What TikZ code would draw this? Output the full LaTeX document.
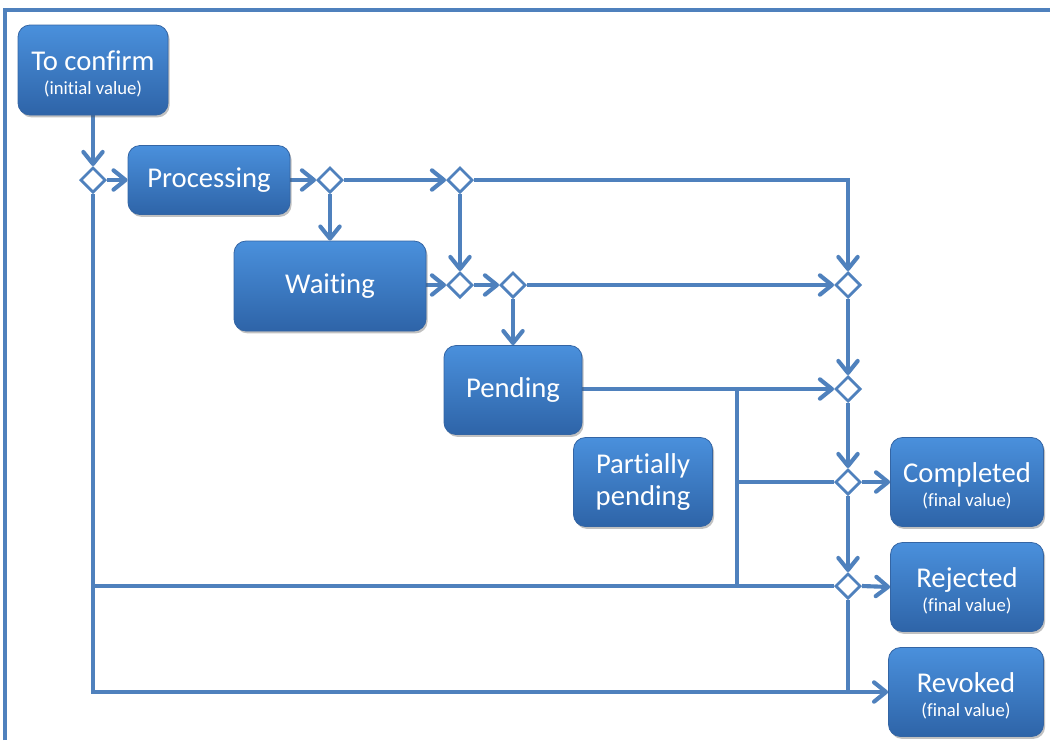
\documentclass[tikz,border=0pt]{standalone}
\usepackage{fontspec}
\setmainfont{Carlito}[Ligatures=NoCommon]
\usetikzlibrary{arrows.meta,shapes.geometric,shadows,backgrounds}
\definecolor{lineblue}{RGB}{79,129,189}
\definecolor{boxtop}{RGB}{74,144,220}
\definecolor{boxbot}{RGB}{46,100,168}
\definecolor{boxedge}{RGB}{52,101,164}
\tikzset{
  state/.style={rectangle, rounded corners=9pt, draw=boxedge, line width=0.6pt,
    top color=boxtop, bottom color=boxbot, text=white, align=center, inner sep=0pt,
    font=\fontsize{21.5}{24}\selectfont,
    drop shadow={shadow xshift=1.2pt, shadow yshift=-1.8pt, opacity=0.35, fill=black!70}},
  junction/.style={diamond, draw=lineblue, fill=white, line width=2pt, inner sep=0pt,
    minimum width=19pt, minimum height=19pt},
  conn/.style={draw=lineblue, line width=3.1pt},
  arr/.style={-{Straight Barb[length=9pt,width=14.5pt,round]}},
  frame/.style={draw=lineblue, line width=2.3pt}
}
\newcommand{\smalltxt}[1]{{\fontsize{14}{16}\selectfont #1}}
\newcommand{\toppad}{\rule{0pt}{21pt}}
\begin{document}
\begin{tikzpicture}[x=0.75pt,y=-0.75pt]
\useasboundingbox (0,0) rectangle (1050,740);
\draw[frame] (5,740) -- (5,10) -- (1050,10);

% states
\node[state, minimum width=112.5pt, minimum height=67.5pt] (tc) at (93,70)
  {\toppad To confirm\\[-6pt]\smalltxt{(initial value)}};
\node[state, minimum width=121.5pt, minimum height=51.75pt] (proc) at (209,180) {Processing};
\node[state, minimum width=144pt, minimum height=67.5pt] (wt) at (330,286) {Waiting};
\node[state, minimum width=103.5pt, minimum height=66.75pt] (pd) at (513,390) {Pending};
\node[state, minimum width=104.25pt, minimum height=66.75pt] (pp) at (643,482) {Partially\\pending};
\node[state, minimum width=114.75pt, minimum height=66.75pt] (cp) at (967,482)
  {\toppad Completed\\[-6pt]\smalltxt{(final value)}};
\node[state, minimum width=114.75pt, minimum height=66.75pt] (rj) at (967,587)
  {\toppad Rejected\\[-6pt]\smalltxt{(final value)}};
\node[state, minimum width=116.25pt, minimum height=66.75pt] (rv) at (966,692)
  {\toppad Revoked\\[-6pt]\smalltxt{(final value)}};

% junctions
\node[junction] (d1) at (93,180) {};
\node[junction] (d2) at (330,180) {};
\node[junction] (d3) at (460,180) {};
\node[junction] (d4) at (460,285) {};
\node[junction] (d5) at (513,285) {};
\node[junction] (d6) at (848,285) {};
\node[junction] (d7) at (848,389) {};
\node[junction] (d8) at (848,482) {};
\node[junction] (d9) at (848,586) {};
\coordinate (j) at (737,389);

\begin{pgfonlayer}{background}
\draw[conn,arr] (tc.south) -- (d1.north);
\draw[conn,arr] (d1.east) -- (proc.west);
\draw[conn,arr] (d1.south) |- (rv.west);
\draw[conn] (d1.south |- d9.west) -- (d9.west);
\draw[conn,arr] (proc.east) -- (d2.west);
\draw[conn,arr] (d2.east) -- (d3.west);
\draw[conn,arr] (d2.south) -- (wt.north);
\draw[conn,arr] (d3.east) -| (d6.north);
\draw[conn,arr] (d3.south) -- (d4.north);
\draw[conn,arr] (wt.east |- d4.west) -- (d4.west);
\draw[conn,arr] (d4.east) -- (d5.west);
\draw[conn,arr] (d5.east) -- (d6.west);
\draw[conn,arr] (d5.south) -- (pd.north);
\draw[conn,arr] (pd.east |- d7.west) -- (d7.west);
\draw[conn] (j) -- (j |- d9.west);
\draw[conn] (j |- d8.west) -- (d8.west);
\draw[conn,arr] (d6.south) -- (d7.north);
\draw[conn,arr] (d7.south) -- (d8.north);
\draw[conn,arr] (d8.east) -- (cp.west);
\draw[conn,arr] (d8.south) -- (d9.north);
\draw[conn,arr] (d9.east) -- (rj.west);
\draw[conn] (d9.south) -- (d9.south |- rv.west);
\end{pgfonlayer}
\end{tikzpicture}
\end{document}
